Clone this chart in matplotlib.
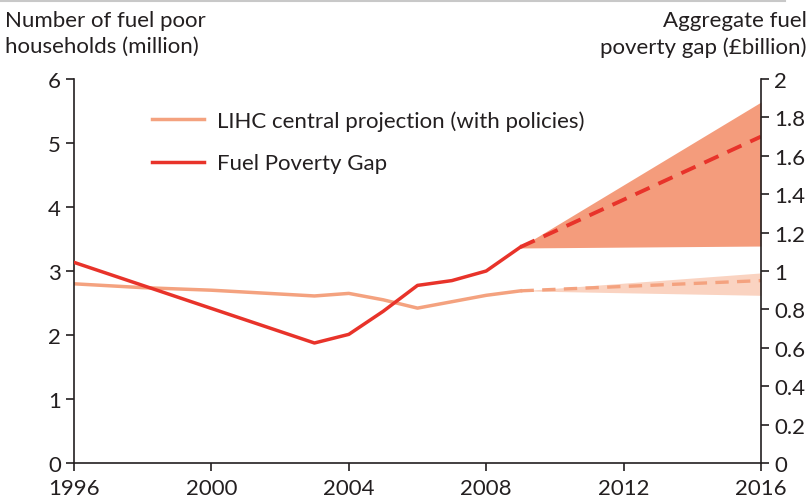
import numpy as np
import matplotlib.pyplot as plt

plt.rcParams['font.family'] = ['Lato', 'DejaVu Sans']

# LIHC number of fuel poor households (million), left axis
lihc_years = [1996, 1997, 1998, 1999, 2000, 2001, 2002, 2003, 2004, 2005, 2006, 2007, 2008, 2009]
lihc_vals = [2.80, 2.77, 2.74, 2.72, 2.70, 2.67, 2.64, 2.61, 2.65, 2.55, 2.42, 2.52, 2.62, 2.69]
lihc_proj_years = [2009, 2016]
lihc_proj_vals = [2.69, 2.85]
lihc_band_low = [2.69, 2.62]
lihc_band_high = [2.69, 2.97]

# Aggregate fuel poverty gap (£billion), right axis
gap_years = [1996, 2003, 2004, 2005, 2006, 2007, 2008, 2009]
gap_vals = [1.045, 0.625, 0.67, 0.79, 0.925, 0.95, 1.0, 1.125]
gap_proj_years = [2009, 2016]
gap_proj_vals = [1.125, 1.70]
gap_band_low = [1.12, 1.13]
gap_band_high = [1.125, 1.88]

red = '#e8332a'
salmon = '#f4a27f'

fig = plt.figure(figsize=(8.11, 5.02), dpi=100)
ax = fig.add_axes([74/811, 38/502, 687/811, 384/502])
ax2 = ax.twinx()

ax.fill_between(lihc_proj_years, lihc_band_low, lihc_band_high, color='#fad3c1', lw=0)
ax2.fill_between(gap_proj_years, gap_band_low, gap_band_high, color='#f49c7c', lw=0)

ax.plot(lihc_years, lihc_vals, color=salmon, lw=2.5, label='LIHC central projection (with policies)')
ax.plot(lihc_proj_years, lihc_proj_vals, color=salmon, lw=2.4, ls=(0, (4, 2.5)))
ax2.plot(gap_years, gap_vals, color=red, lw=2.5, label='Fuel Poverty Gap')
ax2.plot(gap_proj_years, gap_proj_vals, color=red, lw=2.8, ls=(0, (4, 2.5)))

ax.set_xlim(1996, 2016)
ax.set_ylim(0, 6)
ax2.set_ylim(0, 2)
ax.set_xticks([1996, 2000, 2004, 2008, 2012, 2016])
ax.set_yticks(range(0, 7))
ax2.set_yticks(np.arange(0, 2.01, 0.2))
ax2.set_yticklabels(['0', '0.2', '0.4', '0.6', '0.8', '1', '1.2', '1.4', '1.6', '1.8', '2'])

for a in (ax, ax2):
    a.spines['top'].set_visible(False)
    for s in a.spines.values():
        s.set_color('#231f20')
        s.set_linewidth(1.2)
    a.tick_params(colors='#231f20', labelsize=16, length=6, width=1.2)
ax.spines['right'].set_visible(False)
ax2.spines['left'].set_visible(False)
ax2.spines['bottom'].set_visible(False)
ax.tick_params(axis='x', pad=5)

h1, l1 = ax.get_legend_handles_labels()
h2, l2 = ax2.get_legend_handles_labels()
ax.legend(h1 + h2, l1 + l2, loc='upper left', bbox_to_anchor=(0.085, 0.97),
          frameon=False, fontsize=16, handlelength=2.3, handletextpad=0.6,
          labelspacing=1.0, labelcolor='#231f20')

fig.text(0.006, 0.932, 'Number of fuel poor\nhouseholds (million)', fontsize=16,
         color='#231f20', ha='left', va='center', linespacing=1.4)
fig.text(0.995, 0.932, 'Aggregate fuel\npoverty gap (£billion)', fontsize=16,
         color='#231f20', ha='right', va='center', linespacing=1.4)
fig.add_artist(plt.Line2D([0, 785/811], [0.996, 0.996], color='#c8c8c8', lw=1.5))

fig.savefig('out.png', dpi=100)
